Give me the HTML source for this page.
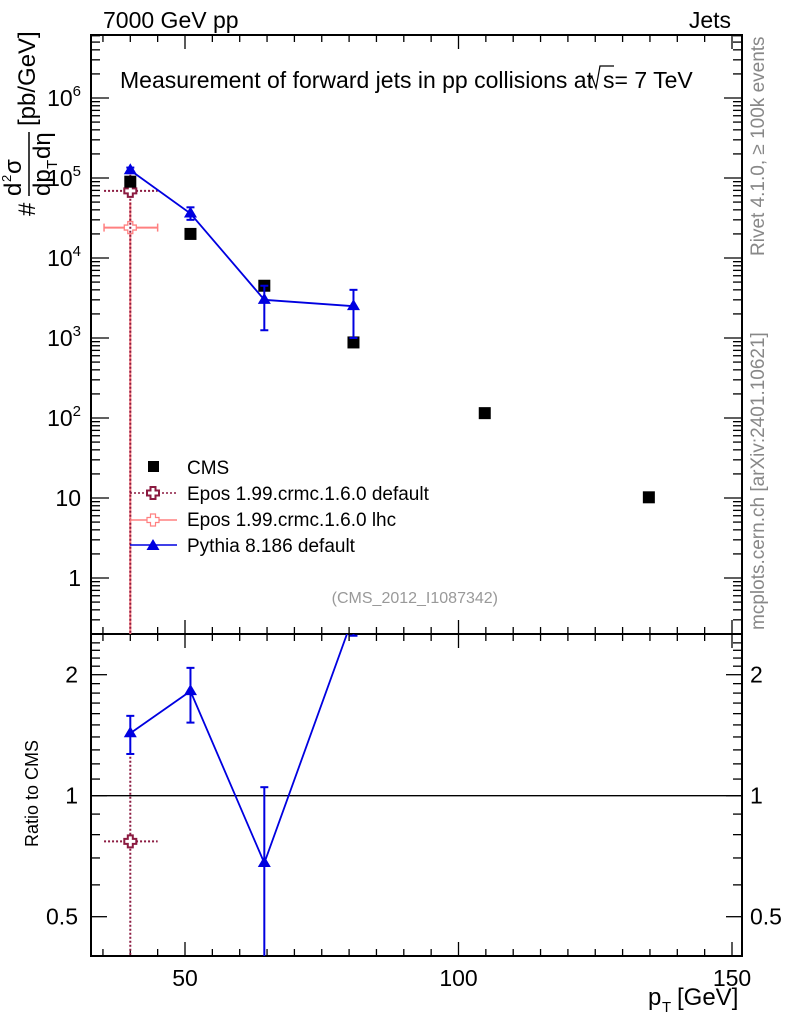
<!DOCTYPE html>
<html><head><meta charset="utf-8"><style>
body{margin:0;background:#fff;}
svg{display:block;font-family:"Liberation Sans",sans-serif;}
</style></head><body>
<svg id="c" width="786" height="1024" xmlns="http://www.w3.org/2000/svg"></svg>
<script>
const cmsX=[40,51,64.5,80.8,104.8,134.8];
const cmsY=[9e4,2e4,4.5e3,880,115,10.2];
const pyX=[40,51,64.5,80.8];
const pyY=[1.25e5,3.6e4,3.0e3,2.5e3];
const pyLo=[1.15e5,3.0e4,1.25e3,1.0e3];
const pyHi=[1.35e5,4.3e4,4.5e3,4.0e3];
const epdX=[40], epdY=[6.9e4], epdLo=[1e-3], epdHi=[1.1e5], epdXlo=[35.2], epdXhi=[45];
const eplX=[40], eplY=[2.4e4], eplLo=[1e-3], eplHi=[5e4], eplXlo=[35.2], eplXhi=[45];
const rPyY=[1.43,1.82,0.68,2.8];
const rPyLo=[1.27,1.52,0.35,2.5];
const rPyHi=[1.58,2.08,1.05,3.2];
const rEpdY=[0.77], rEpdLo=[0.1], rEpdHi=[1.25];
const yTicks=[1,10,100,1000,1e4,1e5,1e6];
const yTickLbl=["1","10","10^2","10^3","10^4","10^5","10^6"];
const xTicks=[50,100,150];
const rTicks=[0.5,1,2];

const L=91,R=742,T=35,B=634,RB=956;
const X=v=>185+(v-50)*5.47;
const Y=v=>578-80*Math.log10(v);
const RY=v=>795.7-121*Math.log2(v);
const s=document.getElementById('c');
const NS='http://www.w3.org/2000/svg';
function el(t,a,p){const e=document.createElementNS(NS,t);for(const k in a)e.setAttribute(k,a[k]);(p||s).appendChild(e);return e;}
function txt(x,y,str,a,name){const e=el('text',Object.assign({x:x,y:y},a));e.textContent=str;return e;}
const clip1=el('clipPath',{id:'cp1'});el('rect',{x:L,y:T,width:R-L,height:B-T},clip1);
const clip2=el('clipPath',{id:'cp2'});el('rect',{x:L,y:B,width:R-L,height:RB-B},clip2);
let f=el('rect',{x:L,y:T,width:R-L,height:B-T,fill:'none',stroke:'#000','stroke-width':2});

f=el('rect',{x:L,y:B,width:R-L,height:RB-B,fill:'none',stroke:'#000','stroke-width':2});

for(let v=35;v<=150;v+=5){const big=v%50===0;const l=big?14:7;const x=X(v);
 for(const [y0,d] of [[T,1],[B,-1],[B,1],[RB,-1]]) el('line',{x1:x,x2:x,y1:y0,y2:y0+d*l,stroke:'#000','stroke-width':1.3});}
xTicks.forEach(v=>{txt(X(v),986,String(v),{'font-size':23,'text-anchor':'middle'},'x-tick-label');});
for(let d=-1;d<=6;d++)for(let m=1;m<10;m++){const v=m*Math.pow(10,d);const y=Y(v);if(y<T||y>B)continue;const l=m===1?18:9;
 el('line',{x1:L,x2:L+l,y1:y,y2:y,stroke:'#000','stroke-width':1.3});el('line',{x1:R,x2:R-l,y1:y,y2:y,stroke:'#000','stroke-width':1.3});}
yTicks.forEach((v,i)=>{const lb=yTickLbl[i];const y=Y(v)+8;
 if(lb.indexOf('^')>0){const t=txt(81,y,'',{'font-size':23,'text-anchor':'end'},'y-tick-label');
  const p=lb.split('^');const a=el('tspan',{},t);a.textContent=p[0];const b=el('tspan',{'font-size':15,dy:-10},t);b.textContent=p[1];}
 else txt(81,y,lb,{'font-size':23,'text-anchor':'end'},'y-tick-label');});
for(let v=0.4;v<=2.5;v+=0.1){const y=RY(v);if(y<B||y>RB)continue;const big=[0.5,1,2].some(q=>Math.abs(q-v)<1e-6);const l=big?16:9;
 el('line',{x1:L,x2:L+l,y1:y,y2:y,stroke:'#000','stroke-width':1.3});el('line',{x1:R,x2:R-l,y1:y,y2:y,stroke:'#000','stroke-width':1.3});}
rTicks.forEach(v=>{txt(78,RY(v)+8,String(v),{'font-size':23,'text-anchor':'end'},'ratio-tick-label');txt(750,RY(v)+8,String(v),{'font-size':23},'ratio-tick-label-right');});
let one=el('line',{x1:L,x2:R,y1:RY(1),y2:RY(1),stroke:'#000','stroke-width':1.3});
txt(103,28,'7000 GeV pp',{'font-size':23},'energy-label');
txt(731,28,'Jets',{'font-size':23,'text-anchor':'end'},'category-label');
txt(120,88,'Measurement of forward jets in pp collisions at',{'font-size':23},'plot-title');
el('path',{d:'M589,80 l3,-3 l4,11 l4,-22 h14',fill:'none',stroke:'#000','stroke-width':1.2});
txt(603,88,'s= 7 TeV',{'font-size':23},'plot-title-energy');
txt(498,603,'(CMS_2012_I1087342)',{'font-size':16,fill:'#999','text-anchor':'end'},'analysis-id');
txt(0,0,'Rivet 4.1.0, \u2265 100k events',{'font-size':19,fill:'#888',transform:'translate(764,256) rotate(-90)'},'rivet-label');
txt(0,0,'mcplots.cern.ch [arXiv:2401.10621]',{'font-size':19,fill:'#888',transform:'translate(764,630) rotate(-90)'},'mcplots-label');
txt(0,0,'Ratio to CMS',{'font-size':18,transform:'translate(38,847) rotate(-90)'},'ratio-y-title');
const yt=el('g',{transform:'translate(35,216) rotate(-90)'});
let a=el('text',{x:0,y:0,'font-size':24},yt);a.textContent='#';
a=el('text',{x:20,y:-14,'font-size':24},yt);a.textContent='d';a=el('text',{x:34,y:-24,'font-size':13},yt);a.textContent='2';a=el('text',{x:42,y:-14,'font-size':24},yt);a.textContent='σ';
el('line',{x1:20,x2:84,y1:-6,y2:-6,stroke:'#000','stroke-width':1.5},yt);
a=el('text',{x:20,y:15,'font-size':24},yt);a.textContent='dp';a=el('text',{x:47,y:22,'font-size':15},yt);a.textContent='T';a=el('text',{x:57,y:15,'font-size':24},yt);a.textContent='dη';
a=el('text',{x:90,y:0,'font-size':24},yt);a.textContent='[pb/GeV]';
txt(648,1005,'p',{'font-size':24},'x-axis-title');
txt(662,1012,'T',{'font-size':15},'x-axis-title-sub');
txt(677,1005,'[GeV]',{'font-size':24},'x-axis-title-unit');
const g1=el('g',{'clip-path':'url(#cp1)'}),g2=el('g',{'clip-path':'url(#cp2)'});
function tri(x,y,g,c,name){const p=el('path',{d:`M${x},${y-7} l6.5,11 h-13 z`,fill:c},g);}
function cross(x,y,g,c,name,w){const p=el('path',{d:`M${x-2.5},${y-6} h5 v3.5 h3.5 v5 h-3.5 v3.5 h-5 v-3.5 h-3.5 v-5 h3.5 z`,fill:'#fff',stroke:c,'stroke-width':w},g);}
eplX.forEach((v,i)=>{const x=X(v),y=Y(eplY[i]);
 el('line',{x1:x,x2:x,y1:Y(eplHi[i]),y2:Math.min(Y(eplLo[i]),B),stroke:'#ff8080','stroke-width':2},g1);
 el('line',{x1:X(eplXlo[i]),x2:X(eplXhi[i]),y1:y,y2:y,stroke:'#ff8080','stroke-width':2},g1);
 el('line',{x1:X(eplXlo[i]),x2:X(eplXlo[i]),y1:y-4,y2:y+4,stroke:'#ff8080','stroke-width':1.5},g1);
 el('line',{x1:X(eplXhi[i]),x2:X(eplXhi[i]),y1:y-4,y2:y+4,stroke:'#ff8080','stroke-width':1.5},g1);
 cross(x,y,g1,'#ff8080','epos-lhc-point',1.3);});
epdX.forEach((v,i)=>{const x=X(v),y=Y(epdY[i]);
 el('line',{x1:x,x2:x,y1:Y(epdHi[i]),y2:Math.min(Y(epdLo[i]),B),stroke:'#8b1a40','stroke-width':2,'stroke-dasharray':'2,2'},g1);
 el('line',{x1:X(epdXlo[i]),x2:X(epdXhi[i]),y1:y,y2:y,stroke:'#8b1a40','stroke-width':2,'stroke-dasharray':'2,2'},g1);
 cross(x,y,g1,'#8b1a40','epos-default-point',2);
 const ry=RY(rEpdY[i]);
 el('line',{x1:x,x2:x,y1:RY(rEpdHi[i]),y2:RB,stroke:'#8b1a40','stroke-width':2,'stroke-dasharray':'2,2'},g2);
 el('line',{x1:X(epdXlo[i]),x2:X(epdXhi[i]),y1:ry,y2:ry,stroke:'#8b1a40','stroke-width':2,'stroke-dasharray':'2,2'},g2);
 cross(x,ry,g2,'#8b1a40','ratio-epos-default-point',2);});
cmsX.forEach((v,i)=>{const r=el('rect',{x:X(v)-6,y:Y(cmsY[i])-6,width:12,height:12,fill:'#000'},g1);});
el('polyline',{points:pyX.map((v,i)=>X(v)+','+Y(pyY[i])).join(' '),fill:'none',stroke:'#0000e0','stroke-width':1.8},g1);
pyX.forEach((v,i)=>{const x=X(v);el('line',{x1:x,x2:x,y1:Y(pyHi[i]),y2:Y(pyLo[i]),stroke:'#0000e0','stroke-width':2},g1);
 [pyHi[i],pyLo[i]].forEach(q=>el('line',{x1:x-4,x2:x+4,y1:Y(q),y2:Y(q),stroke:'#0000e0','stroke-width':2},g1));
 tri(x,Y(pyY[i]),g1,'#0000e0','pythia-point');});
el('polyline',{points:pyX.map((v,i)=>X(v)+','+RY(rPyY[i])).join(' '),fill:'none',stroke:'#0000e0','stroke-width':1.8},g2);
pyX.forEach((v,i)=>{const x=X(v);el('line',{x1:x,x2:x,y1:RY(rPyHi[i]),y2:RY(rPyLo[i]),stroke:'#0000e0','stroke-width':2},g2);
 [rPyHi[i],rPyLo[i]].forEach(q=>el('line',{x1:x-4,x2:x+4,y1:RY(q),y2:RY(q),stroke:'#0000e0','stroke-width':2},g2));
 tri(x,RY(rPyY[i]),g2,'#0000e0','ratio-pythia-point');});
const lg=el('g',{});
el('rect',{x:148,y:461,width:11,height:11,fill:'#000'},lg);
txt(187,474,'CMS',{'font-size':19},'legend-entry-cms');
el('line',{x1:130,x2:177,y1:493,y2:493,stroke:'#8b1a40','stroke-width':1.5,'stroke-dasharray':'2,2'},lg);cross(153,493,lg,'#8b1a40','legend-epos-default-marker',2);
txt(187,500,'Epos 1.99.crmc.1.6.0 default',{'font-size':19},'legend-entry-epos-default');
el('line',{x1:130,x2:177,y1:520,y2:520,stroke:'#ff8080','stroke-width':1.5},lg);cross(153,520,lg,'#ff8080','legend-epos-lhc-marker',1.2);
txt(187,526,'Epos 1.99.crmc.1.6.0 lhc',{'font-size':19},'legend-entry-epos-lhc');
el('line',{x1:130,x2:177,y1:545,y2:545,stroke:'#0000e0','stroke-width':1.5},lg);tri(153,546,lg,'#0000e0','legend-pythia-marker');
txt(187,552,'Pythia 8.186 default',{'font-size':19},'legend-entry-pythia');
</script>
</body></html>
